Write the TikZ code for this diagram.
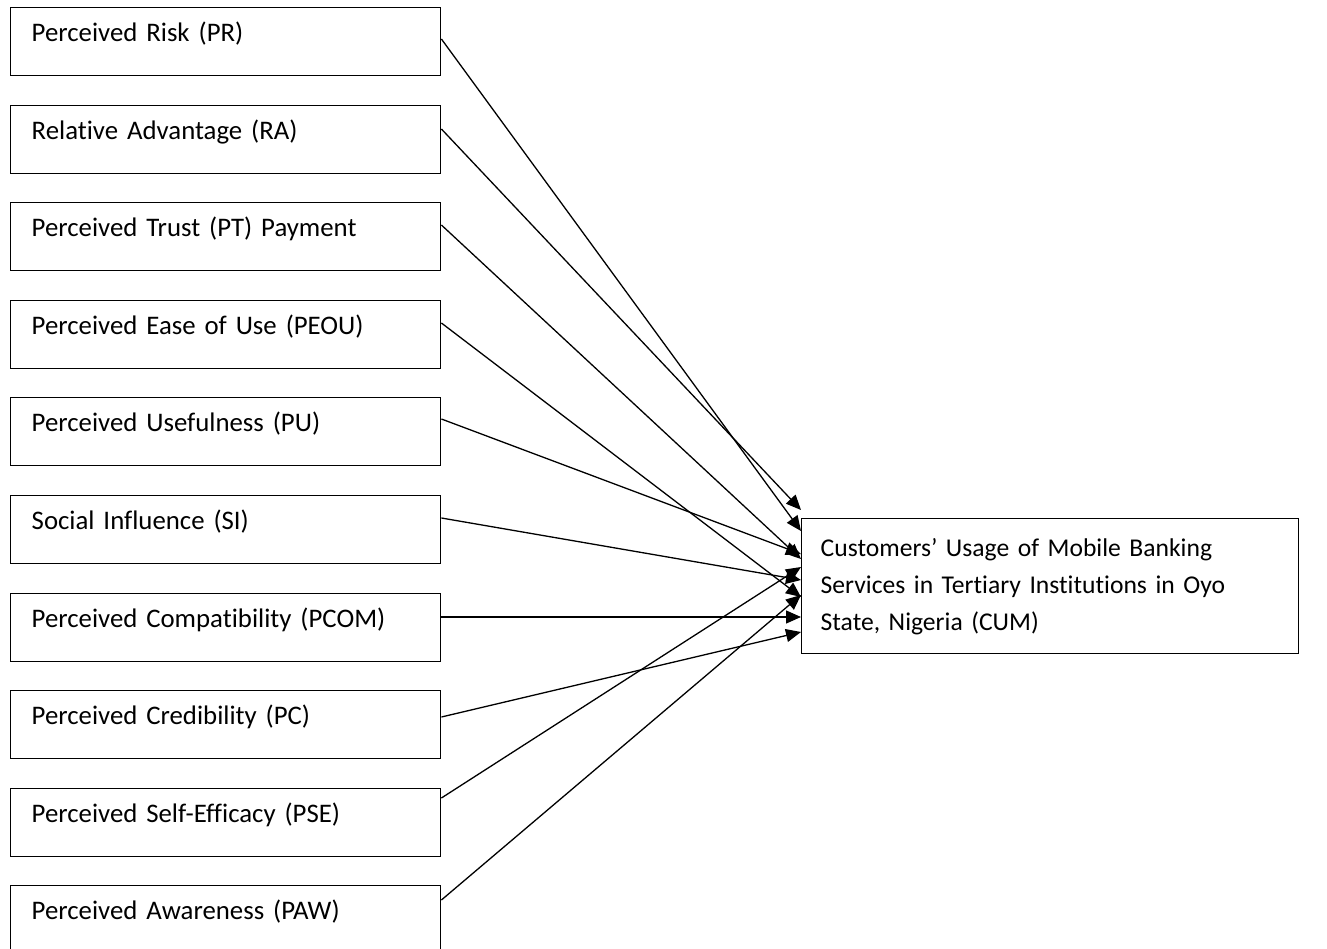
\documentclass[tikz,border=0pt]{standalone}
\usepackage{fontspec}
\setmainfont[Ligatures={NoCommon}]{Carlito}
\usetikzlibrary{arrows.meta,calc}
\tikzset{
  src/.style={draw, line width=1.4pt, anchor=north west, minimum width=430pt,
    inner xsep=21pt, inner ysep=0pt, text width=388pt, align=left,
    text height=34pt, text depth=34pt, font=\fontsize{26.8}{37}\selectfont},
  tgt/.style={draw, line width=1.4pt, anchor=north west, minimum width=497pt,
    minimum height=135pt, inner xsep=18pt, text width=459pt, align=left,
    font=\fontsize{25.6}{37}\selectfont},
  link/.style={line width=1.3pt, -{Triangle[length=15pt,width=13pt]}}
}
\begin{document}
\begin{tikzpicture}[x=1pt,y=-1pt]
\useasboundingbox (0,0) rectangle (1327,949);
\node[src] (PR)   at (10,7)   {Perceived Risk (PR)};
\node[src] (RA)   at (10,105) {Relative Advantage (RA)};
\node[src] (PT)   at (10,202) {Perceived Trust (PT) Payment};
\node[src] (PEOU) at (10,300) {Perceived Ease of Use (PEOU)};
\node[src] (PU)   at (10,397) {Perceived Usefulness (PU)};
\node[src] (SI)   at (10,495) {Social Influence (SI)};
\node[src] (PCOM) at (10,593) {Perceived Compatibility (PCOM)};
\node[src] (PC)   at (10,690) {Perceived Credibility (PC)};
\node[src] (PSE)  at (10,788) {Perceived Self-Efficacy (PSE)};
\node[src] (PAW)  at (10,885) {Perceived Awareness (PAW)};
\node[tgt] (CUM)  at (801,518) {Customers’ Usage of Mobile Banking\\Services in Tertiary Institutions in Oyo\\State, Nigeria (CUM)};
\draw[link] ($(PR.north east)+(0,32)$)   -- ($(CUM.north west)+(0,13)$);
\draw[link] ($(RA.north east)+(0,24)$)   -- ($(CUM.north west)+(0,-8)$);
\draw[link] ($(PT.north east)+(0,23)$)   -- ($(CUM.north west)+(0,41)$);
\draw[link] ($(PEOU.north east)+(0,23)$) -- ($(CUM.north west)+(0,79)$);
\draw[link] ($(PU.north east)+(0,22)$)   -- ($(CUM.north west)+(0,36)$);
\draw[link] ($(SI.north east)+(0,23)$)   -- ($(CUM.north west)+(0,62)$);
\draw[link] ($(PCOM.north east)+(0,24)$) -- ($(CUM.north west)+(0,99)$);
\draw[link] ($(PC.north east)+(0,27)$)   -- ($(CUM.north west)+(0,114)$);
\draw[link] ($(PSE.north east)+(0,10)$)  -- ($(CUM.north west)+(0,49)$);
\draw[link] ($(PAW.north east)+(0,15)$)  -- ($(CUM.north west)+(0,77)$);
\end{tikzpicture}
\end{document}
